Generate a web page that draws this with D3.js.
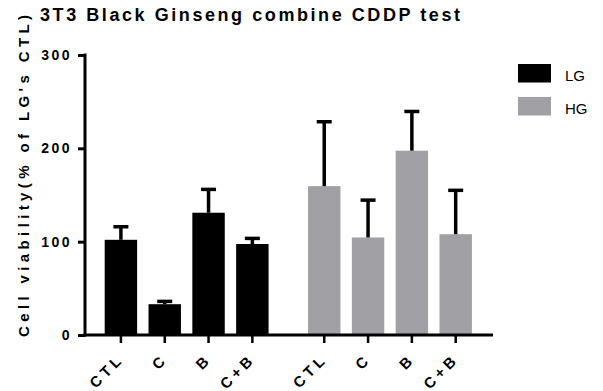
<!DOCTYPE html>
<html><head><meta charset="utf-8">
<script src="https://cdn.jsdelivr.net/npm/d3@7"></script>
<style>
body{margin:0;background:#fff;}
text{font-family:"Liberation Sans",Arial,sans-serif;}
</style></head>
<body><svg id="c" width="603" height="391"></svg>
<script>
const groups = ["LG", "HG"];
const categories = ["CTL", "C", "B", "C+B"];
const lgMeans = [102, 33, 131, 97.5];
const lgErrors = [14, 3, 25, 6];
const hgMeans = [159.5, 104.5, 197.5, 108];
const hgErrors = [69, 40, 42, 47];
const yTicks = [0, 100, 200, 300];
const colors = ["#000000", "#a1a1a5"];
const title = "3T3 Black Ginseng combine CDDP test";
const yTitle = "Cell viability(% of LG's CTL)";

const data = groups.map((g, gi) => categories.map((c, ci) => ({
  group: g, gi, cat: c,
  mean: gi === 0 ? lgMeans[ci] : hgMeans[ci],
  err: gi === 0 ? lgErrors[ci] : hgErrors[ci]
})));

const svg = d3.select("#c");
const y = d3.scaleLinear().domain([0, 300]).range([335, 55]);
const x0 = d3.scaleBand().domain(groups).range([99, 477.6]).paddingInner(0.138).paddingOuter(0);
const x1 = d3.scaleBand().domain(categories).range([0, x0.bandwidth()]).paddingInner(0.26).paddingOuter(0.13);

// bars
const gG = svg.selectAll("g.grp").data(data).join("g").attr("class", "grp")
  .attr("transform", d => `translate(${x0(d[0].group)},0)`);
gG.selectAll("rect").data(d => d).join("rect")
  .attr("x", d => x1(d.cat))
  .attr("width", x1.bandwidth())
  .attr("y", d => y(d.mean))
  .attr("height", d => y(0) - y(d.mean))
  .attr("fill", d => colors[d.gi]);

// error bars
gG.selectAll("line.stem").data(d => d).join("line")
  .attr("class", "stem")
  .attr("x1", d => x1(d.cat) + x1.bandwidth() / 2)
  .attr("x2", d => x1(d.cat) + x1.bandwidth() / 2)
  .attr("y1", d => y(d.mean))
  .attr("y2", d => y(d.mean + d.err))
  .attr("stroke", "#000").attr("stroke-width", 3.5);
gG.selectAll("line.cap").data(d => d).join("line")
  .attr("class", "cap")
  .attr("x1", d => x1(d.cat) + x1.bandwidth() / 2 - 7.5)
  .attr("x2", d => x1(d.cat) + x1.bandwidth() / 2 + 7.5)
  .attr("y1", d => y(d.mean + d.err))
  .attr("y2", d => y(d.mean + d.err))
  .attr("stroke", "#000").attr("stroke-width", 3.5);

// y axis
const yAxis = svg.append("g").attr("transform", "translate(85,0)")
  .call(d3.axisLeft(y).tickValues(yTicks).tickSize(7).tickPadding(6).tickSizeOuter(0));
yAxis.select(".domain").attr("stroke-width", 3).attr("d", `M0,${y(300)-1.5}V${y(0)+1.5}`);
yAxis.selectAll(".tick line").attr("stroke-width", 3);
yAxis.selectAll(".tick text").attr("font-size", 14).attr("font-weight", "bold")
  .attr("letter-spacing", "2.5px").attr("fill", "#000");

// x axis
const xAxisG = svg.append("g").attr("transform", `translate(0,${y(0)})`);
xAxisG.append("line").attr("x1", 83.5).attr("x2", 493).attr("y1", 0).attr("y2", 0)
  .attr("stroke", "#000").attr("stroke-width", 3);
groups.forEach(g => {
  const ax = xAxisG.append("g").attr("transform", `translate(${x0(g)},0)`)
    .call(d3.axisBottom(x1).tickSize(8).tickSizeOuter(0));
  ax.select(".domain").remove();
  ax.selectAll(".tick line").attr("stroke-width", 2.5);
  ax.selectAll(".tick text")
    .attr("font-size", 15).attr("font-weight", "bold").attr("letter-spacing", "4px")
    .attr("fill", "#000")
    .attr("text-anchor", "end")
    .attr("y", 0).attr("dy", 0)
    .attr("transform", "translate(4,25) rotate(-45)");
});

// title
svg.append("text").attr("x", 250).attr("y", 21).attr("text-anchor", "middle")
  .attr("font-size", 18).attr("font-weight", "bold")
  .attr("textLength", 420).attr("lengthAdjust", "spacing")
  .text(title);

// y title
svg.append("text").attr("transform", "translate(29,176) rotate(-90)")
  .attr("text-anchor", "middle")
  .attr("font-size", 15).attr("font-weight", "bold")
  .attr("textLength", 322).attr("lengthAdjust", "spacing")
  .text(yTitle);

// legend
const leg = svg.selectAll("g.leg").data(groups).join("g").attr("class", "leg")
  .attr("transform", (d, i) => `translate(518,${64 + i * 33})`);
leg.append("rect").attr("width", 33).attr("height", 18.5).attr("fill", (d, i) => colors[i]);
leg.append("text").attr("x", 47).attr("y", 17).attr("font-size", 15).text(d => d);
</script></body></html>
